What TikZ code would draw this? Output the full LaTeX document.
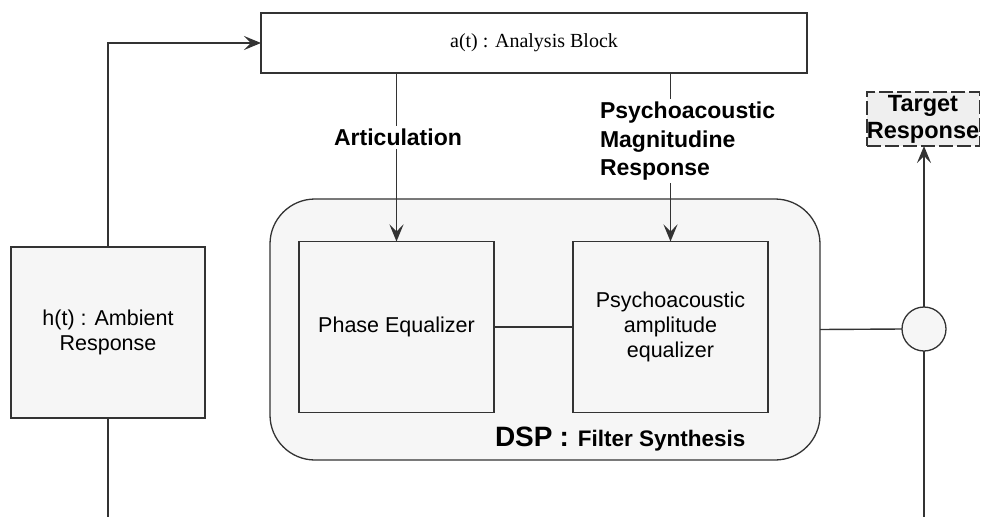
\documentclass[tikz,border=0pt]{standalone}
\usepackage{fontspec}
\setmainfont{Liberation Sans}
\newfontfamily\serifA{Liberation Serif}
\usetikzlibrary{arrows.meta}
\definecolor{boxfill}{HTML}{F6F6F6}
\definecolor{tgtfill}{HTML}{EFEFEF}
\definecolor{linec}{HTML}{333333}
\begin{document}
\begin{tikzpicture}[x=1pt,y=-1pt,
  every node/.style={inner sep=0pt, outer sep=0pt},
  blk/.style={draw=linec, line width=1.3pt, fill=boxfill, minimum width=195pt, minimum height=171pt, align=center, font=\fontsize{21.5}{25}\selectfont},
  conn/.style={draw=linec, line width=1.4pt},
  arr/.style={conn, -{Stealth[length=17pt,width=14pt,inset=7pt]}},
  lbl/.style={font=\fontsize{23}{28.5}\selectfont\bfseries, fill=white, inner sep=3pt}
]
\useasboundingbox (0,0) rectangle (982,517);
% DSP container
\node[draw=linec, line width=1.3pt, fill=boxfill, rounded corners=45pt, minimum width=550pt, minimum height=261pt] (dsp) at (545,329.5) {};
\node[anchor=base west, font=\bfseries] (dsplbl) at (495,446) {\fontsize{28}{30}\selectfont DSP\hspace{7pt}:\hspace{9pt}\fontsize{22.5}{28}\selectfont Filter Synthesis};
% blocks
\node[draw=linec, line width=1.3pt, fill=white, minimum width=546pt, minimum height=60pt, font=\serifA\fontsize{20}{24}\selectfont] (ana) at (534,43) {a(t) : Analysis Block};
\node[blk, minimum width=194pt] (h) at (108,332.5) {h(t) : Ambient\\Response};
\node[blk] (pe) at (396.5,327) {Phase Equalizer};
\node[blk] (pa) at (670.5,327) {Psychoacoustic\\amplitude\\equalizer};
\node[draw=linec, line width=1.3pt, circle, fill=boxfill, minimum size=44pt] (sum) at (924,329) {};
\node[draw=linec, line width=1.3pt, dash pattern=on 14pt off 4pt, fill=tgtfill, minimum width=111pt, minimum height=54pt, align=center, font=\fontsize{23.5}{27}\selectfont\bfseries] (tgt) at (923,119) {\raisebox{-3pt}{Target}\\\raisebox{-3pt}{Response}};
\coordinate (hbot) at (108,517);
\coordinate (sbot) at (924,517);
% connectors
\draw[arr] (h.north) |- (ana.west);
\draw[conn] (h.south) -- (hbot);
\draw[arr] (ana.south -| pe.north) -- (pe.north);
\draw[arr] (ana.south -| pa.north) -- (pa.north);
\draw[conn] (pe.east) -- (pa.west);
\draw[conn] (dsp.east) -- (sum.west);
\draw[arr] (sum.north) -- (tgt.south -| sum.north);
\draw[conn] (sum.south) -- (sbot);
% labels on connectors
\node[lbl] (art) at (398,137.5) {Articulation};
\node[lbl, anchor=north west, align=left] (pmr) at (597,99) {Psychoacoustic\\Magnitudine\\Response};
\end{tikzpicture}
\end{document}
